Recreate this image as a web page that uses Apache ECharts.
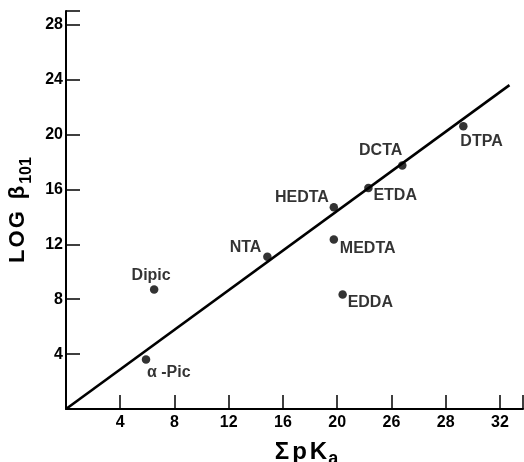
<!DOCTYPE html>
<html>
<head>
<meta charset="utf-8">
<script src="https://cdn.jsdelivr.net/npm/echarts@6/dist/echarts.min.js"></script>
<style>html,body{margin:0;padding:0;background:#fff}#c{width:524px;height:462px}</style>
</head>
<body>
<div id="c"></div>
<script>
// Data
const pointNames = ['Dipic', 'α -Pic', 'NTA', 'HEDTA', 'MEDTA', 'EDDA', 'ETDA', 'DCTA', 'DTPA'];
const sumPKa     = [6.5, 5.9, 14.85, 19.75, 19.75, 20.4, 22.3, 24.8, 29.3];
const logBeta    = [8.7, 3.6, 11.1, 14.7, 12.35, 8.35, 16.1, 17.75, 20.6];
const fitLineX   = [0, 32.7];
const fitLineY   = [0, 23.6];
const xTickLabels = ['', '4', '8', '12', '16', '20', '26', '28', '32'];
const yTickLabels = ['', '4', '8', '12', '16', '20', '24', '28'];

// Label placement (style, not data)
const labelPlace = {
  'Dipic':  {align: 'center', offset: [-3, -14]},
  'α -Pic': {align: 'left',   offset: [1, 13]},
  'NTA':    {align: 'right',  offset: [-6, -9]},
  'HEDTA':  {align: 'right',  offset: [-5, -10]},
  'MEDTA':  {align: 'left',   offset: [6, 9]},
  'EDDA':   {align: 'left',   offset: [5, 8]},
  'ETDA':   {align: 'left',   offset: [5, 8]},
  'DCTA':   {align: 'right',  offset: [0, -15]},
  'DTPA':   {align: 'left',   offset: [-3, 15]}
};

const FONT = 'Liberation Sans';
const chart = echarts.init(document.getElementById('c'), null, {renderer: 'canvas'});

const scatterData = pointNames.map((n, i) => ({
  name: n,
  value: [sumPKa[i], logBeta[i]],
  label: {
    show: true,
    position: 'inside',
    formatter: n,
    align: labelPlace[n].align,
    verticalAlign: 'middle',
    offset: labelPlace[n].offset
  }
}));

const tb = (size, extra) => Object.assign({fontSize: size, fontWeight: 'bold', fontFamily: FONT, color: '#000'}, extra || {});

const option = {
  backgroundColor: '#fff',
  animation: false,
  grid: {left: 66, right: 1, top: 11, bottom: 53, containLabel: false, outerBoundsMode: 'none'},
  xAxis: {
    type: 'value',
    min: 0, max: 33.7, interval: 4,
    name: '{S|Σ}{p|p}{k|K}{s|a}',
    nameLocation: 'middle',
    nameGap: 20,
    nameTextStyle: {
      color: '#000', fontFamily: FONT, fontSize: 24, fontWeight: 'bold', lineHeight: 32,
      rich: {
        S: tb(24, {lineHeight: 32, padding: [0, 3, 0, 24]}),
        p: tb(24, {lineHeight: 32, padding: [0, 3, 0, 0]}),
        k: tb(24, {lineHeight: 32, padding: [0, 1, 0, 0]}),
        s: tb(18, {lineHeight: 32, verticalAlign: 'bottom'})
      }
    },
    axisLine: {show: true, onZero: false, lineStyle: {color: '#000', width: 2}},
    axisTick: {show: true, inside: true, length: 14, lineStyle: {color: '#000', width: 1.5}},
    axisLabel: {
      color: '#000', fontFamily: FONT, fontSize: 16, fontWeight: 'bold', margin: 6,
      formatter: v => { const k = Math.round(v / 4); return (Math.abs(v - k * 4) < 1e-6 && xTickLabels[k] !== undefined) ? xTickLabels[k] : ''; }
    },
    splitLine: {show: false}
  },
  yAxis: {
    type: 'value',
    min: 0, max: 29, interval: 4,
    name: '{L|L}{L|O}{L|G}{b|β}{s|101}',
    nameLocation: 'middle',
    nameGap: 29,
    nameRotate: 90,
    nameTextStyle: {
      color: '#000', fontFamily: FONT, fontSize: 22, fontWeight: 'bold', lineHeight: 32,
      rich: {
        L: tb(22, {lineHeight: 32, padding: [0, 2, 0, 0]}),
        b: tb(22, {lineHeight: 32, padding: [0, 2, 0, 10]}),
        s: tb(16, {lineHeight: 32, verticalAlign: 'bottom'})
      }
    },
    axisLine: {show: true, onZero: false, lineStyle: {color: '#000', width: 2}},
    axisTick: {show: true, inside: true, length: 14, lineStyle: {color: '#000', width: 1.5}},
    axisLabel: {
      color: '#000', fontFamily: FONT, fontSize: 16, fontWeight: 'bold', margin: 3,
      formatter: v => { const k = Math.round(v / 4); return (Math.abs(v - k * 4) < 1e-6 && yTickLabels[k] !== undefined) ? yTickLabels[k] : ''; }
    },
    splitLine: {show: false}
  },
  series: [
    {
      type: 'line',
      data: fitLineX.map((x, i) => [x, fitLineY[i]]),
      showSymbol: false,
      lineStyle: {color: '#000', width: 2.6},
      silent: true,
      z: 1
    },
    {
      type: 'scatter',
      data: scatterData,
      symbol: 'circle',
      symbolSize: 8.5,
      itemStyle: {color: '#000'},
      label: {color: '#000', fontFamily: FONT, fontSize: 16, fontWeight: 'bold'},
      z: 2
    }
  ]
};
chart.setOption(option);
</script>
</body>
</html>
